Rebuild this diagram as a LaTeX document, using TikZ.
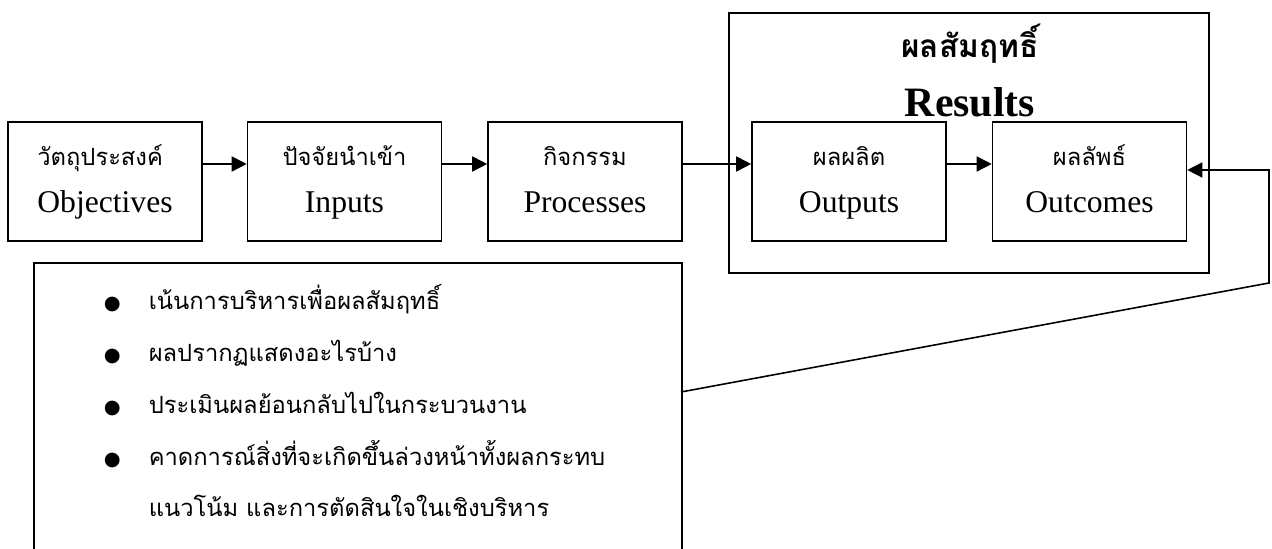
\documentclass[tikz,border=0pt]{standalone}
\usepackage{fontspec}
\setmainfont{Liberation Serif}
\newfontfamily\thai[Script=Thai]{Loma}
\newfontfamily\sym{DejaVu Sans}
\usetikzlibrary{arrows.meta}

\tikzset{
  stage/.style={draw, minimum width=3.88cm, minimum height=2.38cm, inner sep=0pt,
    align=center, font=\fontsize{18}{27.2}\selectfont},
}
\newcommand{\stagetext}[2]{\rule{0pt}{16.6pt}{\thai\fontsize{13.5}{15}\selectfont #1}\\#2\rule[-8pt]{0pt}{8pt}}
\newcommand{\dotitem}{\makebox[0.9cm][l]{\sym\fontsize{11}{11}\selectfont ●}}

\begin{document}
\begin{tikzpicture}[>={Triangle[length=3mm,width=3mm]},line width=0.9pt]
\clip (0,0) rectangle (25.44,10.98);

\node[stage,align=left] (obj) at (2.1,7.35) {\stagetext{วัตถุประสงค์}{Objectives}};
\node[stage] (inp) at (6.89,7.35) {\stagetext{ปัจจัยนำเข้า}{Inputs}};
\node[stage] (proc) at (11.7,7.35) {\stagetext{กิจกรรม}{Processes}};

\node[draw,minimum width=9.6cm,minimum height=5.2cm] (res) at (19.38,8.12) {};
\node[anchor=base,font=\thai\bfseries\fontsize{18}{20}\selectfont] (resth) at (19.4,9.82) {ผลสัมฤทธิ์};
\node[anchor=base,font=\bfseries\fontsize{23.8}{26}\selectfont] (resen) at (19.4,8.64) {Results};
\node[stage] (outp) at (16.98,7.35) {\stagetext{ผลผลิต}{Outputs}};
\node[stage] (outc) at (21.79,7.35) {\stagetext{ผลลัพธ์}{Outcomes}};

\draw[->] ([yshift=3.5mm]obj.east) -- ([yshift=3.5mm]inp.west);
\draw[->] ([yshift=3.5mm]inp.east) -- ([yshift=3.5mm]proc.west);
\draw[->] ([yshift=3.5mm]proc.east) -- ([yshift=3.5mm]outp.west);
\draw[->] ([yshift=3.5mm]outp.east) -- ([yshift=3.5mm]outc.west);

% box with the notes, open at the bottom of the page
\node[draw,anchor=north west,minimum width=12.96cm,minimum height=7cm] (notes) at (0.66,5.74) {};
\node[anchor=base west,align=left,inner sep=0pt,font=\thai\fontsize{13.5}{29.5}\selectfont] (notelist) at (2.06,0.64)
  {\dotitem เน้นการบริหารเพื่อผลสัมฤทธิ์\\
   \dotitem ผลปรากฏแสดงอะไรบ้าง\\
   \dotitem ประเมินผลย้อนกลับไปในกระบวนงาน\\
   \dotitem คาดการณ์สิ่งที่จะเกิดขึ้นล่วงหน้าทั้งผลกระทบ\\
   \hspace*{0.9cm}แนวโน้ม และการตัดสินใจในเชิงบริหาร};

\coordinate (fbstart) at (13.62,3.14);
\coordinate (fbbend) at (25.38,5.32);
\draw[->] (fbstart) -- (fbbend) |- ([yshift=2.3mm]outc.east);
\end{tikzpicture}
\end{document}
